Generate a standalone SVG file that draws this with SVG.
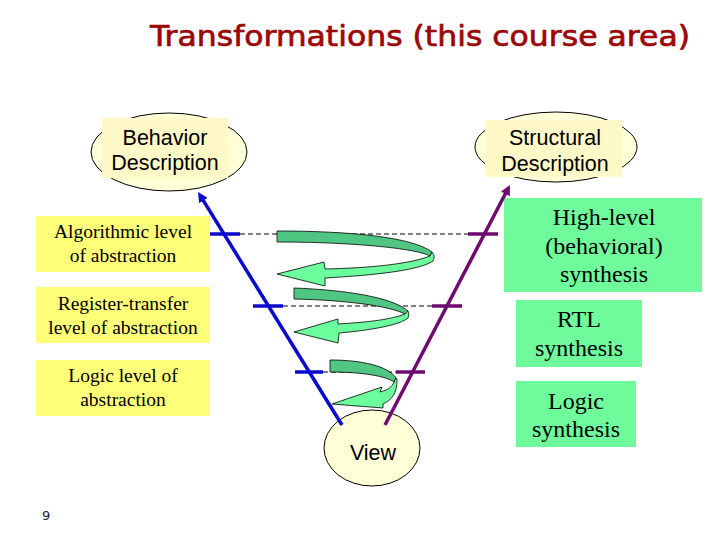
<svg xmlns="http://www.w3.org/2000/svg" width="720" height="540" viewBox="0 0 720 540">
<defs>
<style>
.title{font-family:"DejaVu Sans","Liberation Sans",sans-serif;font-size:29px;fill:#9c0606;stroke:#9c0606;stroke-width:0.7}
.ell{fill:#ffffd8;stroke:#000;stroke-width:1}
.ebg{fill:#fff9c8}
.etxt{font-family:"Liberation Sans",Arial,sans-serif;font-size:21.5px;fill:#000;text-anchor:middle}
.ybox{fill:#ffff78}
.gbox{fill:#6ffb9c}
.ltxt{font-family:"Liberation Serif","Times New Roman",serif;font-size:19.5px;fill:#000;text-anchor:middle}
.rtxt{font-family:"Liberation Serif","Times New Roman",serif;font-size:24px;fill:#000;text-anchor:middle}
.dash{stroke:#000;stroke-width:1;stroke-dasharray:5,3;fill:none}
.blue{stroke:#0a0acc;stroke-width:3.5;fill:none}
.purp{stroke:#6e0a70;stroke-width:3.5;fill:none}
.dark{fill:#4fc682;stroke:#000;stroke-width:0.8}
.light{fill:#6cff9e;stroke:#000;stroke-width:0.8}
.pg{font-family:"DejaVu Sans","Liberation Sans",sans-serif;font-size:13px;fill:#222}
</style>
<marker id="ab" viewBox="0 0 10 10" refX="4" refY="5" markerUnits="userSpaceOnUse" markerWidth="11" markerHeight="10" orient="auto"><path d="M0,0 L10,5 L0,10 z" fill="#0a0acc"/></marker>
<marker id="ap" viewBox="0 0 10 10" refX="4" refY="5" markerUnits="userSpaceOnUse" markerWidth="11" markerHeight="10" orient="auto"><path d="M0,0 L10,5 L0,10 z" fill="#6e0a70"/></marker>
</defs>
<rect width="720" height="540" fill="#fff"/>
<text class="title" x="150" y="46" textLength="540" lengthAdjust="spacingAndGlyphs">Transformations (this course area)</text>

<g id="behavior">
<ellipse class="ell" cx="169" cy="152" rx="78" ry="39"/>
<rect class="ebg" x="102" y="118" width="126" height="60"/>
<text class="etxt" x="165" y="145">Behavior</text>
<text class="etxt" x="165" y="170">Description</text>
</g>
<g id="structural">
<ellipse class="ell" cx="556" cy="147" rx="81" ry="35"/>
<rect class="ebg" x="485" y="120" width="137" height="57"/>
<text class="etxt" x="555" y="145">Structural</text>
<text class="etxt" x="555" y="171">Description</text>
</g>
<g id="view">
<ellipse class="ell" cx="372" cy="448" rx="48" ry="38"/>
<text class="etxt" x="373" y="460">View</text>
</g>

<g id="algorithmic">
<rect class="ybox" x="36" y="216" width="174" height="56"/>
<text class="ltxt" x="123" y="238">Algorithmic level</text>
<text class="ltxt" x="123" y="262">of abstraction</text>
</g>
<g id="rtl-level">
<rect class="ybox" x="36" y="287" width="174" height="56"/>
<text class="ltxt" x="123" y="310">Register-transfer</text>
<text class="ltxt" x="123" y="334">level of abstraction</text>
</g>
<g id="logic-level">
<rect class="ybox" x="36" y="360" width="174" height="56"/>
<text class="ltxt" x="123" y="382">Logic level of</text>
<text class="ltxt" x="123" y="406">abstraction</text>
</g>

<g id="hl-synthesis">
<rect class="gbox" x="504" y="198" width="198" height="94"/>
<text class="rtxt" x="604" y="225">High-level</text>
<text class="rtxt" x="604" y="254">(behavioral)</text>
<text class="rtxt" x="604" y="282">synthesis</text>
</g>
<g id="rtl-synthesis">
<rect class="gbox" x="516" y="300" width="126" height="67"/>
<text class="rtxt" x="579" y="327">RTL</text>
<text class="rtxt" x="579" y="356">synthesis</text>
</g>
<g id="logic-synthesis">
<rect class="gbox" x="516" y="381" width="120" height="66"/>
<text class="rtxt" x="576" y="409">Logic</text>
<text class="rtxt" x="576" y="437">synthesis</text>
</g>

<g id="connectors">
<line class="dash" x1="240" y1="234" x2="468" y2="234"/>
<line class="dash" x1="283" y1="306" x2="432" y2="306"/>
<line class="dash" x1="323" y1="372" x2="396" y2="372"/>

<path class="dark" d="M277,231 C350,231 412,237 432,252 L430,256 C415,248 350,242 277,242 Z"/>
<path class="light" d="M430,256 C410,264 370,268 325,269 L324,262 L277,274 L325,286 L325,278 C378,275 420,270 433,261 C435,257 434,254 432,252 Z"/>

<path class="dark" d="M294,288 C345,290 392,297 408,311 L405,314 C390,306 345,300 294,299 Z"/>
<path class="light" d="M405,314 C392,319 372,322 338,324 L338,319 L294,332 L338,343 L339,333 C372,330 400,325 408,318 C409,316 409,313 408,311 Z"/>

<path class="dark" d="M330,360 C362,360 388,366 396,378 L394,382 C386,376 362,372 330,372 Z"/>
<path class="light" d="M394,382 C392,387 388,390 380,392 L382,387 L332,404 L383,408 L383,404 C392,400 397,393 397,380 L396,378 Z"/>

<line class="blue" x1="342" y1="425" x2="201.2" y2="197.1" marker-end="url(#ab)"/>
<line class="purp" x1="385" y1="425" x2="507.2" y2="190.3" marker-end="url(#ap)"/>
<line class="blue" x1="210" y1="234" x2="240" y2="234"/>
<line class="blue" x1="253" y1="306" x2="283" y2="306"/>
<line class="blue" x1="295" y1="372" x2="323" y2="372"/>
<line class="purp" x1="468" y1="234" x2="498" y2="234"/>
<line class="purp" x1="432" y1="306" x2="462" y2="306"/>
<line class="purp" x1="396" y1="372" x2="425" y2="372"/>
</g>

<text class="pg" x="42" y="520">9</text>
</svg>
